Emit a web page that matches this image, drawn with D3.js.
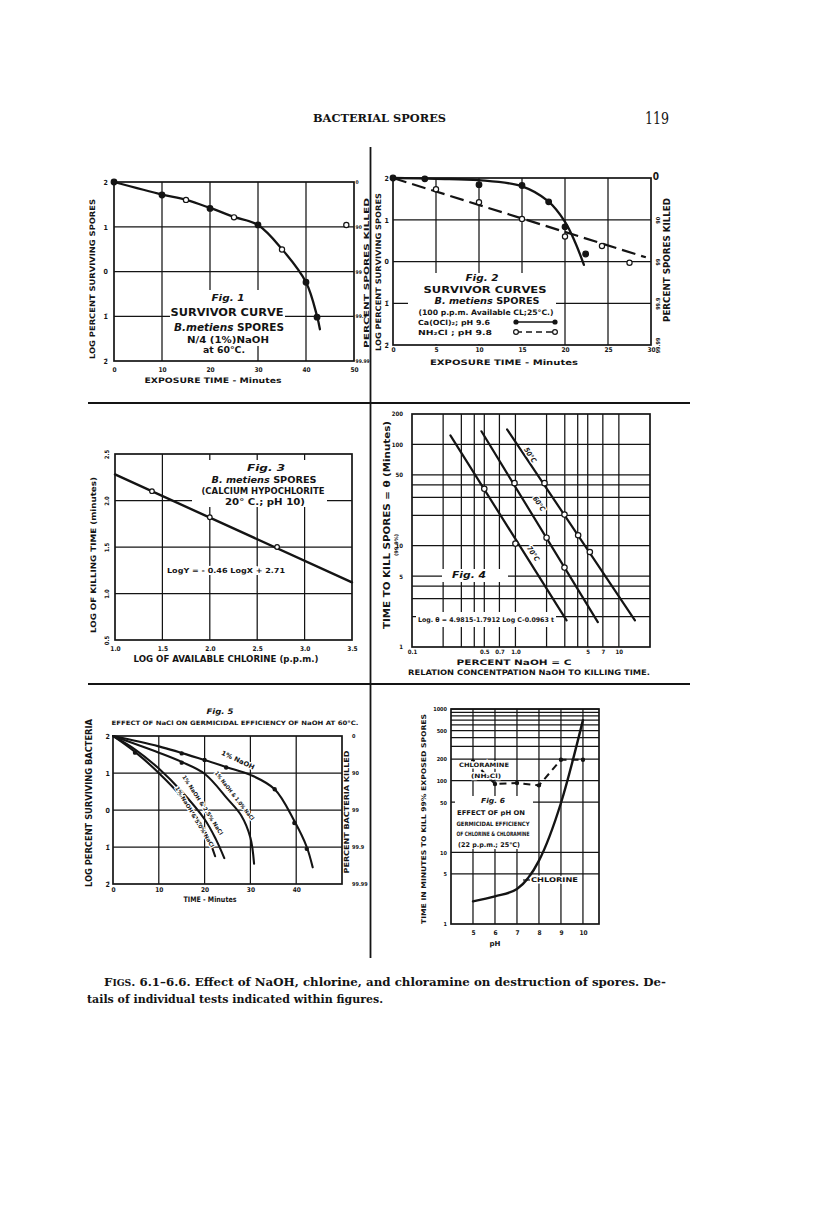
<!DOCTYPE html>
<html>
<head>
<meta charset="utf-8">
<script src="https://cdn.jsdelivr.net/npm/d3@7"></script>
<style>
  html, body { margin: 0; padding: 0; background: #fff; }
  svg { display: block; }
</style>
</head>
<body>
<div id="page"></div>
<script>
// Figs 6.1-6.6, Bacterial spores p.119

// Fig 1: survivor curve, N/4 NaOH at 60 C
const fig1Filled = [[0, 2], [10, 1.71], [20, 1.41], [30, 1.04], [40, -0.24], [42.3, -1.02]];
const fig1Open = [[15, 1.6], [25, 1.21], [35, 0.49], [48.4, 1.04]];
const fig1Curve = [[0, 2], [10, 1.72], [15, 1.6], [20, 1.42], [25, 1.22], [30, 1.04], [35, 0.5], [40, -0.24], [42.3, -1.0], [42.9, -1.29]];

// Fig 2: Ca(OCl)2 vs NH2Cl
const fig2CaPts = [[0, 2], [3.7, 1.98], [10, 1.84], [15, 1.82], [18.1, 1.43], [20, 0.83], [22.4, 0.18]];
const fig2CaCurve = [[0, 2], [5, 1.98], [10, 1.95], [15, 1.8], [18, 1.45], [20, 0.95], [21.2, 0.45], [22.2, -0.08]];
const fig2NhPts = [[5, 1.73], [10, 1.42], [15, 1.02], [20, 0.6], [24.3, 0.37], [27.5, -0.03]];
const fig2NhLine = [[0, 2], [29.4, 0.1]];

// Fig 3: log killing time vs log chlorine
const fig3Pts = [[1.39, 2.1], [2.0, 1.82], [2.71, 1.5]];
const fig3Line = [[1.0, 2.28], [3.5, 1.12]];

// Fig 4: NaOH concentration vs killing time (log-log)
const fig4Line70 = [[0.235, 123], [3.12, 1.83]];
const fig4Line60 = [[0.469, 135], [6.26, 1.76]];
const fig4Line50 = [[0.83, 141], [14.3, 1.83]];
const fig4Pts70 = [[0.5, 36.5], [1.0, 10.5]];
const fig4Pts60 = [[0.98, 41.5], [2.0, 12.0], [2.98, 6.08]];
const fig4Pts50 = [[1.91, 41.5], [2.98, 20.3], [4.04, 12.7], [5.24, 8.67]];

// Fig 5: NaCl effect on NaOH at 60 C
const fig5NaOH = [[0, 2], [10, 1.72], [20, 1.35], [25, 1.15], [30, 0.95], [35.3, 0.56], [39.6, -0.3], [42.3, -1.0], [43.6, -1.55]];
const fig5NaCl10 = [[0, 2], [10, 1.55], [15, 1.3], [20, 0.98], [25, 0.3], [28, -0.15], [30, -0.75], [30.8, -1.45]];
const fig5NaCl25 = [[0, 2], [5, 1.62], [10, 1.12], [15, 0.5], [20, -0.25], [22.5, -0.8], [24.3, -1.3]];
const fig5NaCl50 = [[0, 2], [5, 1.55], [10, 1.0], [15, 0.35], [20, -0.55], [22.3, -1.25]];
const fig5Pts = [[4.8, 1.55], [15, 1.53], [15, 1.28], [14.5, 0.45], [20, 1.35], [24.7, 1.15], [35.3, 0.56], [39.6, -0.35], [42.3, -1.05]];

// Fig 6: pH vs time to kill
const fig6pH = [5, 6, 7, 8, 9, 10];
const fig6Chlorine = [2.07, 2.43, 3.08, 7.65, 48.8, 700];
const fig6Chloramine = [186, 90, 93, 86, 196, 196];

// shared tick labels
const logLabels = ['2', '1', '0', '1\u0304', '2\u0304'];
const killedLabels = ['0', '90', '99', '99.9', '99.99'];
const logTicks = [2, 1, 0, -1, -2];

const INK = '#141414';
const SANS = "'DejaVu Sans Condensed', 'DejaVu Sans', sans-serif";
const SERIF = "'DejaVu Serif', 'Liberation Serif', serif";

const svg = d3.select('#page').append('svg')
    .attr('width', 816).attr('height', 1230)
    .attr('viewBox', [0, 0, 816, 1230]);

svg.append('rect').attr('width', 816).attr('height', 1230).attr('fill', '#fff');

function txt(g, s, x, y, o = {}) {
    const t = g.append('text')
        .attr('x', x).attr('y', y)
        .attr('font-family', o.family || SANS)
        .attr('font-size', o.size || 8)
        .attr('font-weight', o.weight || 'bold')
        .attr('text-anchor', o.anchor || 'middle')
        .attr('fill', INK)
        .text(s);
    if (o.italic) t.attr('font-style', 'italic');
    if (o.width) t.attr('textLength', o.width).attr('lengthAdjust', 'spacingAndGlyphs');
    if (o.rotate) t.attr('transform', `rotate(${o.rotate},${x},${y})`);
    if (o.halo) t.attr('stroke', '#fff').attr('stroke-width', o.halo).attr('paint-order', 'stroke');
    return t;
}

function panel(c) {
    const x = (c.xLog ? d3.scaleLog() : d3.scaleLinear()).domain(c.xDomain).range([c.x0, c.x1]);
    const y = (c.yLog ? d3.scaleLog() : d3.scaleLinear()).domain(c.yDomain).range([c.y1, c.y0]);
    const g = svg.append('g');

    // grid
    g.append('g').selectAll('line').data(c.xGrid).join('line')
        .attr('x1', d => x(d)).attr('x2', d => x(d))
        .attr('y1', c.y0).attr('y2', c.y1)
        .attr('stroke', INK).attr('stroke-width', 1.25);
    g.append('g').selectAll('line').data(c.yGrid).join('line')
        .attr('y1', d => y(d)).attr('y2', d => y(d))
        .attr('x1', c.x0).attr('x2', c.x1)
        .attr('stroke', INK).attr('stroke-width', 1.25);

    // white patches behind the lettering
    (c.masks || []).forEach(m => {
        g.append('rect')
            .attr('x', m[0]).attr('y', m[1])
            .attr('width', m[2] - m[0]).attr('height', m[3] - m[1])
            .attr('fill', '#fff');
    });

    g.append('rect')
        .attr('x', c.x0).attr('y', c.y0)
        .attr('width', c.x1 - c.x0).attr('height', c.y1 - c.y0)
        .attr('fill', 'none').attr('stroke', INK).attr('stroke-width', 1.7);

    return { g, x, y, c };
}

function axisText(p, axis, transform, size) {
    const a = p.g.append('g').attr('transform', transform).call(axis.tickSize(0));
    a.select('.domain').remove();
    a.selectAll('.tick line').remove();
    a.attr('font-family', SANS).attr('font-size', size).attr('font-weight', 'bold');
    a.selectAll('text').attr('fill', INK);
    return a;
}

function rotateTicks(a, dx) {
    a.selectAll('text')
        .attr('x', 0).attr('dy', 0).attr('y', 0)
        .attr('text-anchor', 'middle')
        .attr('transform', `translate(${dx},0) rotate(-90) translate(0,3)`);
}

function curve(p, pts, o = {}) {
    p.g.append('path').datum(pts)
        .attr('d', d3.line()
            .x(d => p.x(d[0])).y(d => p.y(d[1]))
            .curve(o.curve || d3.curveLinear))
        .attr('fill', 'none')
        .attr('stroke', INK)
        .attr('stroke-width', o.w || 2.3)
        .attr('stroke-dasharray', o.dash || null)
        .attr('stroke-linecap', o.dash ? 'butt' : 'round');
}

function dots(p, pts, filled, r) {
    p.g.append('g').selectAll('circle').data(pts).join('circle')
        .attr('cx', d => p.x(d[0])).attr('cy', d => p.y(d[1]))
        .attr('r', r || (filled ? 2.8 : 2.6))
        .attr('fill', filled ? INK : '#fff')
        .attr('stroke', INK).attr('stroke-width', 1.2);
}

const smooth = d3.curveCatmullRom.alpha(0.5);

// ---------- page furniture ----------
txt(svg, 'BACTERIAL SPORES', 313, 122, { family: SERIF, size: 10.5, anchor: 'start', width: 133 });
txt(svg, '119', 645, 124, { family: SERIF, size: 16, weight: 'normal', anchor: 'start', width: 24 });

svg.append('line').attr('x1', 370.5).attr('x2', 370.5).attr('y1', 147).attr('y2', 958)
    .attr('stroke', INK).attr('stroke-width', 1.8);
svg.append('line').attr('x1', 88).attr('x2', 690).attr('y1', 403).attr('y2', 403)
    .attr('stroke', INK).attr('stroke-width', 1.8);
svg.append('line').attr('x1', 88).attr('x2', 690).attr('y1', 684).attr('y2', 684)
    .attr('stroke', INK).attr('stroke-width', 1.8);

const cap1 = svg.append('text').attr('x', 104).attr('y', 986)
    .attr('font-family', SERIF).attr('font-size', 11.5).attr('font-weight', 'bold').attr('fill', INK)
    .attr('textLength', 562).attr('lengthAdjust', 'spacingAndGlyphs');
cap1.append('tspan').text('F');
cap1.append('tspan').attr('font-size', 9).text('IGS');
cap1.append('tspan').text('. 6.1\u20136.6. Effect of NaOH, chlorine, and chloramine on destruction of spores. De-');
txt(svg, 'tails of individual tests indicated within figures.', 87, 1003,
    { family: SERIF, size: 11.5, anchor: 'start', width: 296 });

// ---------- Fig 1 ----------
const p1 = panel({
    x0: 114, x1: 354, y0: 182, y1: 361,
    xDomain: [0, 50], yDomain: [-2, 2],
    xGrid: [10, 20, 30, 40], yGrid: [1, 0, -1],
    masks: [[170, 290, 285, 346], [196, 346, 216, 361]]
});
axisText(p1, d3.axisLeft(p1.y).tickValues(logTicks).tickFormat((d, i) => logLabels[i]).tickPadding(6), 'translate(114,0)', 7);
axisText(p1, d3.axisRight(p1.y).tickValues(logTicks).tickFormat((d, i) => killedLabels[i]).tickPadding(1.5), 'translate(354,0)', 5);
axisText(p1, d3.axisBottom(p1.x).tickValues([0, 10, 20, 30, 40, 50]).tickPadding(6), 'translate(0,361)', 6.5);
txt(p1.g, 'LOG PERCENT SURVIVING SPORES', 95, 279, { size: 7.5, rotate: -90, width: 160 });
txt(p1.g, 'PERCENT SPORES KILLED', 368.5, 273, { size: 7, rotate: -90, width: 150 });
txt(p1.g, 'EXPOSURE TIME - Minutes', 213, 383, { size: 7.5, width: 137 });
curve(p1, fig1Curve, { curve: smooth });
dots(p1, fig1Open, false);
dots(p1, fig1Filled, true);
txt(p1.g, 'Fig. 1', 228, 301, { size: 8, italic: true, width: 33 });
txt(p1.g, 'SURVIVOR CURVE', 227, 316, { size: 10, width: 113 });
const t1 = txt(p1.g, '', 229, 331, { size: 10, width: 110 });
t1.append('tspan').attr('font-style', 'italic').text('B.metiens ');
t1.append('tspan').text('SPORES');
txt(p1.g, 'N/4 (1%)NaOH', 228, 343, { size: 8, width: 82 });
txt(p1.g, 'at 60\u00b0C.', 224, 353, { size: 8, width: 42, halo: 3 });

// ---------- Fig 2 ----------
const p2 = panel({
    x0: 393, x1: 651, y0: 178, y1: 345,
    xDomain: [0, 30], yDomain: [-2, 2],
    xGrid: [5, 10, 15, 20, 25], yGrid: [1, 0, -1],
    masks: [[408, 273, 556, 344]]
});
axisText(p2, d3.axisLeft(p2.y).tickValues(logTicks).tickFormat((d, i) => logLabels[i]).tickPadding(4), 'translate(393,0)', 7);
const r2 = axisText(p2, d3.axisRight(p2.y).tickValues(logTicks.slice(1)).tickFormat((d, i) => killedLabels[i + 1]), 'translate(651,0)', 5.5);
rotateTicks(r2, 6);
txt(p2.g, '0', 656, 180, { size: 10, weight: 900 });
axisText(p2, d3.axisBottom(p2.x).tickValues([0, 5, 10, 15, 20, 25, 30]).tickPadding(2.5), 'translate(0,345)', 6.5);
txt(p2.g, 'LOG PERCENT SURVIVING SPORES', 381, 272, { size: 7.5, rotate: -90, width: 158 });
txt(p2.g, 'PERCENT SPORES KILLED', 670, 260, { size: 8, rotate: -90, width: 124 });
txt(p2.g, 'EXPOSURE TIME - Minutes', 504, 365, { size: 7.5, width: 148 });
curve(p2, fig2NhLine, { dash: '14,6', w: 2.2 });
curve(p2, fig2CaCurve, { curve: smooth });
dots(p2, fig2NhPts, false);
dots(p2, fig2CaPts, true);
txt(p2.g, 'Fig. 2', 482, 281, { size: 8, italic: true, width: 33 });
txt(p2.g, 'SURVIVOR CURVES', 485, 293, { size: 9.5, width: 123 });
const t2 = txt(p2.g, '', 487, 304, { size: 9, width: 105 });
t2.append('tspan').attr('font-style', 'italic').text('B. metiens ');
t2.append('tspan').text('SPORES');
txt(p2.g, '(100 p.p.m. Available CL;25\u00b0C.)', 486, 315, { size: 7.5, width: 135 });
txt(p2.g, 'Ca(OCl)\u2082; pH 9.6', 418, 325, { size: 7, anchor: 'start', width: 72 });
txt(p2.g, 'NH\u2082Cl ;  pH 9.8', 418, 335, { size: 7, anchor: 'start', width: 74 });
p2.g.append('line').attr('x1', 516).attr('x2', 555).attr('y1', 322).attr('y2', 322)
    .attr('stroke', INK).attr('stroke-width', 1.6);
p2.g.append('line').attr('x1', 516).attr('x2', 555).attr('y1', 332).attr('y2', 332)
    .attr('stroke', INK).attr('stroke-width', 1.6).attr('stroke-dasharray', '6,4');
[516, 555].forEach(cx => {
    p2.g.append('circle').attr('cx', cx).attr('cy', 322).attr('r', 2.6).attr('fill', INK);
    p2.g.append('circle').attr('cx', cx).attr('cy', 332).attr('r', 2.4).attr('fill', '#fff')
        .attr('stroke', INK).attr('stroke-width', 1.2);
});

// ---------- Fig 3 ----------
const p3 = panel({
    x0: 115, x1: 352, y0: 454, y1: 640,
    xDomain: [1, 3.5], yDomain: [0.5, 2.5],
    xGrid: [1.5, 2, 2.5, 3], yGrid: [2, 1.5, 1],
    masks: [[192, 460, 327, 507]]
});
const l3 = axisText(p3, d3.axisLeft(p3.y).tickValues([2.5, 2, 1.5, 1, 0.5]).tickFormat(d3.format('.1f')), 'translate(115,0)', 6);
rotateTicks(l3, -9);
axisText(p3, d3.axisBottom(p3.x).tickValues([1, 1.5, 2, 2.5, 3, 3.5]).tickFormat(d3.format('.1f')).tickPadding(6), 'translate(0,640)', 6.5);
txt(p3.g, 'LOG OF KILLING TIME (minutes)', 96, 555, { size: 7.5, rotate: -90, width: 156 });
txt(p3.g, 'LOG OF AVAILABLE CHLORINE (p.p.m.)', 226, 662, { size: 8, width: 185 });
curve(p3, fig3Line, { w: 2.4 });
dots(p3, fig3Pts, false, 2.3);
txt(p3.g, 'Fig. 3', 266, 471, { size: 8, italic: true, width: 38 });
const t3 = txt(p3.g, '', 264, 483, { size: 9, width: 105 });
t3.append('tspan').attr('font-style', 'italic').text('B. metiens ');
t3.append('tspan').text('SPORES');
txt(p3.g, '(CALCIUM HYPOCHLORITE', 263, 494, { size: 8, width: 123 });
txt(p3.g, '20\u00b0 C.;   pH 10)', 265, 505, { size: 8, width: 80 });
txt(p3.g, 'LogY = - 0.46 LogX + 2.71', 226, 573, { size: 7, width: 118, halo: 4 });

// ---------- Fig 4 ----------
const p4 = panel({
    x0: 412, x1: 650, y0: 414, y1: 647,
    xLog: true, yLog: true,
    xDomain: [0.1, 20], yDomain: [1, 200],
    xGrid: [0.2, 0.3, 0.4, 0.5, 0.7, 1, 2, 3, 4, 5, 7, 10],
    yGrid: [2, 3, 4, 5, 10, 20, 30, 40, 50, 100],
    masks: [[442, 569, 508, 582], [416, 612, 556, 627]]
});
axisText(p4, d3.axisLeft(p4.y).tickValues([1, 5, 10, 50, 100, 200]).tickFormat(d3.format('d')).tickPadding(9), 'translate(412,0)', 6);
axisText(p4, d3.axisBottom(p4.x).tickValues([0.1, 0.5, 0.7, 1, 5, 7, 10])
    .tickFormat(d => d <= 1 ? d3.format('.1f')(d) : d3.format('d')(d)).tickPadding(2.5), 'translate(0,647)', 6);
txt(p4.g, 'TIME TO KILL SPORES = \u03b8   (Minutes)', 390, 525, { size: 8, rotate: -90, width: 208 });
txt(p4.g, '(99.9%)', 398, 545, { size: 5, rotate: -90, width: 22 });
txt(p4.g, 'PERCENT  NaOH  =  C', 514, 665, { size: 7.5, width: 115 });
txt(p4.g, 'RELATION CONCENTPATION NaOH TO KILLING TIME.', 529, 675, { size: 7.5, width: 242 });
curve(p4, fig4Line70, { w: 2.2 });
curve(p4, fig4Line60, { w: 2.2 });
curve(p4, fig4Line50, { w: 2.2 });
dots(p4, fig4Pts70, false, 2.7);
dots(p4, fig4Pts60, false, 2.7);
dots(p4, fig4Pts50, false, 2.7);
txt(p4.g, 'Fig. 4', 469, 578, { size: 8.5, italic: true, width: 34 });
txt(p4.g, 'Log. \u03b8 = 4.9815-1.7912 Log C-0.0963 t', 486, 622, { size: 6.5, width: 136 });
[['50\u00b0C', 1.33, 79.8], ['60\u00b0C', 1.62, 26.4], ['70\u00b0C', 1.42, 8.5]].forEach(([s, cx, cy]) => {
    txt(p4.g, s, p4.x(cx), p4.y(cy) + 2, { size: 7, italic: true, rotate: 56.5, halo: 2.5 });
});

// ---------- Fig 5 ----------
const p5 = panel({
    x0: 113, x1: 342, y0: 736, y1: 884,
    xDomain: [0, 50], yDomain: [-2, 2],
    xGrid: [10, 20, 30, 40], yGrid: [1, 0, -1]
});
axisText(p5, d3.axisLeft(p5.y).tickValues(logTicks).tickFormat((d, i) => logLabels[i]).tickPadding(3), 'translate(113,0)', 7);
axisText(p5, d3.axisRight(p5.y).tickValues(logTicks).tickFormat((d, i) => killedLabels[i]).tickPadding(10), 'translate(342,0)', 5.5);
axisText(p5, d3.axisBottom(p5.x).tickValues([0, 10, 20, 30, 40]).tickPadding(3.4), 'translate(0,884)', 6.5);
txt(p5.g, 'LOG PERCENT SURVIVING BACTERIA', 92, 803, { size: 8, rotate: -90, width: 168 });
txt(p5.g, 'PERCENT BACTERIA KILLED', 349, 812, { size: 7, rotate: -90, width: 123 });
txt(p5.g, 'TIME - Minutes', 210, 902, { size: 7.5, width: 53 });
txt(p5.g, 'Fig. 5', 220, 714, { size: 7.5, italic: true, width: 27 });
txt(p5.g, 'EFFECT OF NaCl ON GERMICIDAL EFFICIENCY OF NaOH AT 60\u00b0C.', 235, 725, { size: 6, width: 247 });
curve(p5, fig5NaOH, { curve: smooth, w: 2.1 });
curve(p5, fig5NaCl10, { curve: smooth, w: 2.1 });
curve(p5, fig5NaCl25, { curve: smooth, w: 2.1 });
curve(p5, fig5NaCl50, { curve: smooth, w: 2.1 });
dots(p5, fig5Pts, true, 1.6);
txt(p5.g, '1% NaOH', 237, 762, { size: 6.5, rotate: 25, width: 36, halo: 2 });
txt(p5.g, '1% NaOH & 1.0% NaCl', 233, 797, { size: 5.5, rotate: 52, width: 60, halo: 2 });
txt(p5.g, '1% NaOH & 2.5% NaCl', 201, 806, { size: 5.5, rotate: 57, width: 70, halo: 2 });
txt(p5.g, '1% NaOH & 5.0% NaCl', 193, 818, { size: 5.5, rotate: 59, width: 70, halo: 2 });

// ---------- Fig 6 ----------
const p6 = panel({
    x0: 451, x1: 599, y0: 709, y1: 924,
    xDomain: [4, 10.73], yDomain: [1, 1000], yLog: true,
    xGrid: [5, 6, 7, 8, 9, 10],
    yGrid: [5, 10, 50, 100, 200, 300, 400, 500, 600, 700, 800, 900, 1000],
    masks: [[455, 796, 533, 849]]
});
axisText(p6, d3.axisLeft(p6.y).tickValues([1, 5, 10, 50, 100, 200, 500, 1000]).tickFormat(d3.format('d')).tickPadding(4), 'translate(451,0)', 5.5);
axisText(p6, d3.axisBottom(p6.x).tickValues(fig6pH).tickFormat(d3.format('d')).tickPadding(6.4), 'translate(0,924)', 6.5);
txt(p6.g, 'TIME IN MINUTES TO KILL 99% EXPOSED SPORES', 426, 819, { size: 6.5, rotate: -90, width: 210 });
txt(p6.g, 'pH', 495, 946, { size: 7, width: 11 });
const chlorine = fig6pH.map((d, i) => [d, fig6Chlorine[i]]);
const chloramine = fig6pH.map((d, i) => [d, fig6Chloramine[i]]);
curve(p6, chloramine, { dash: '7,5', w: 2 });
curve(p6, chlorine, { curve: d3.curveMonotoneX, w: 2.4 });
dots(p6, chloramine, true, 1.6);
txt(p6.g, 'CHLORAMINE', 484, 767, { size: 6, width: 50, halo: 3 });
txt(p6.g, '(NH\u2082Cl)', 486, 778, { size: 6, width: 30, halo: 3 });
txt(p6.g, 'Fig. 6', 493, 803, { size: 7, italic: true, width: 24 });
txt(p6.g, 'EFFECT OF pH ON', 491, 815, { size: 6.5, width: 68 });
txt(p6.g, 'GERMICIDAL EFFICIENCY', 493, 826, { size: 6, width: 73 });
txt(p6.g, 'OF CHLORINE & CHLORAMINE', 493, 836, { size: 6, width: 73 });
txt(p6.g, '(22 p.p.m.;  25\u00b0C)', 489, 847, { size: 6.5, width: 62 });
txt(p6.g, 'CHLORINE', 531, 882, { size: 6.5, anchor: 'start', width: 47, halo: 3 });
p6.g.append('line').attr('x1', 523).attr('y1', 880).attr('x2', 530).attr('y2', 880)
    .attr('stroke', INK).attr('stroke-width', 1.2);
</script>
</body>
</html>
